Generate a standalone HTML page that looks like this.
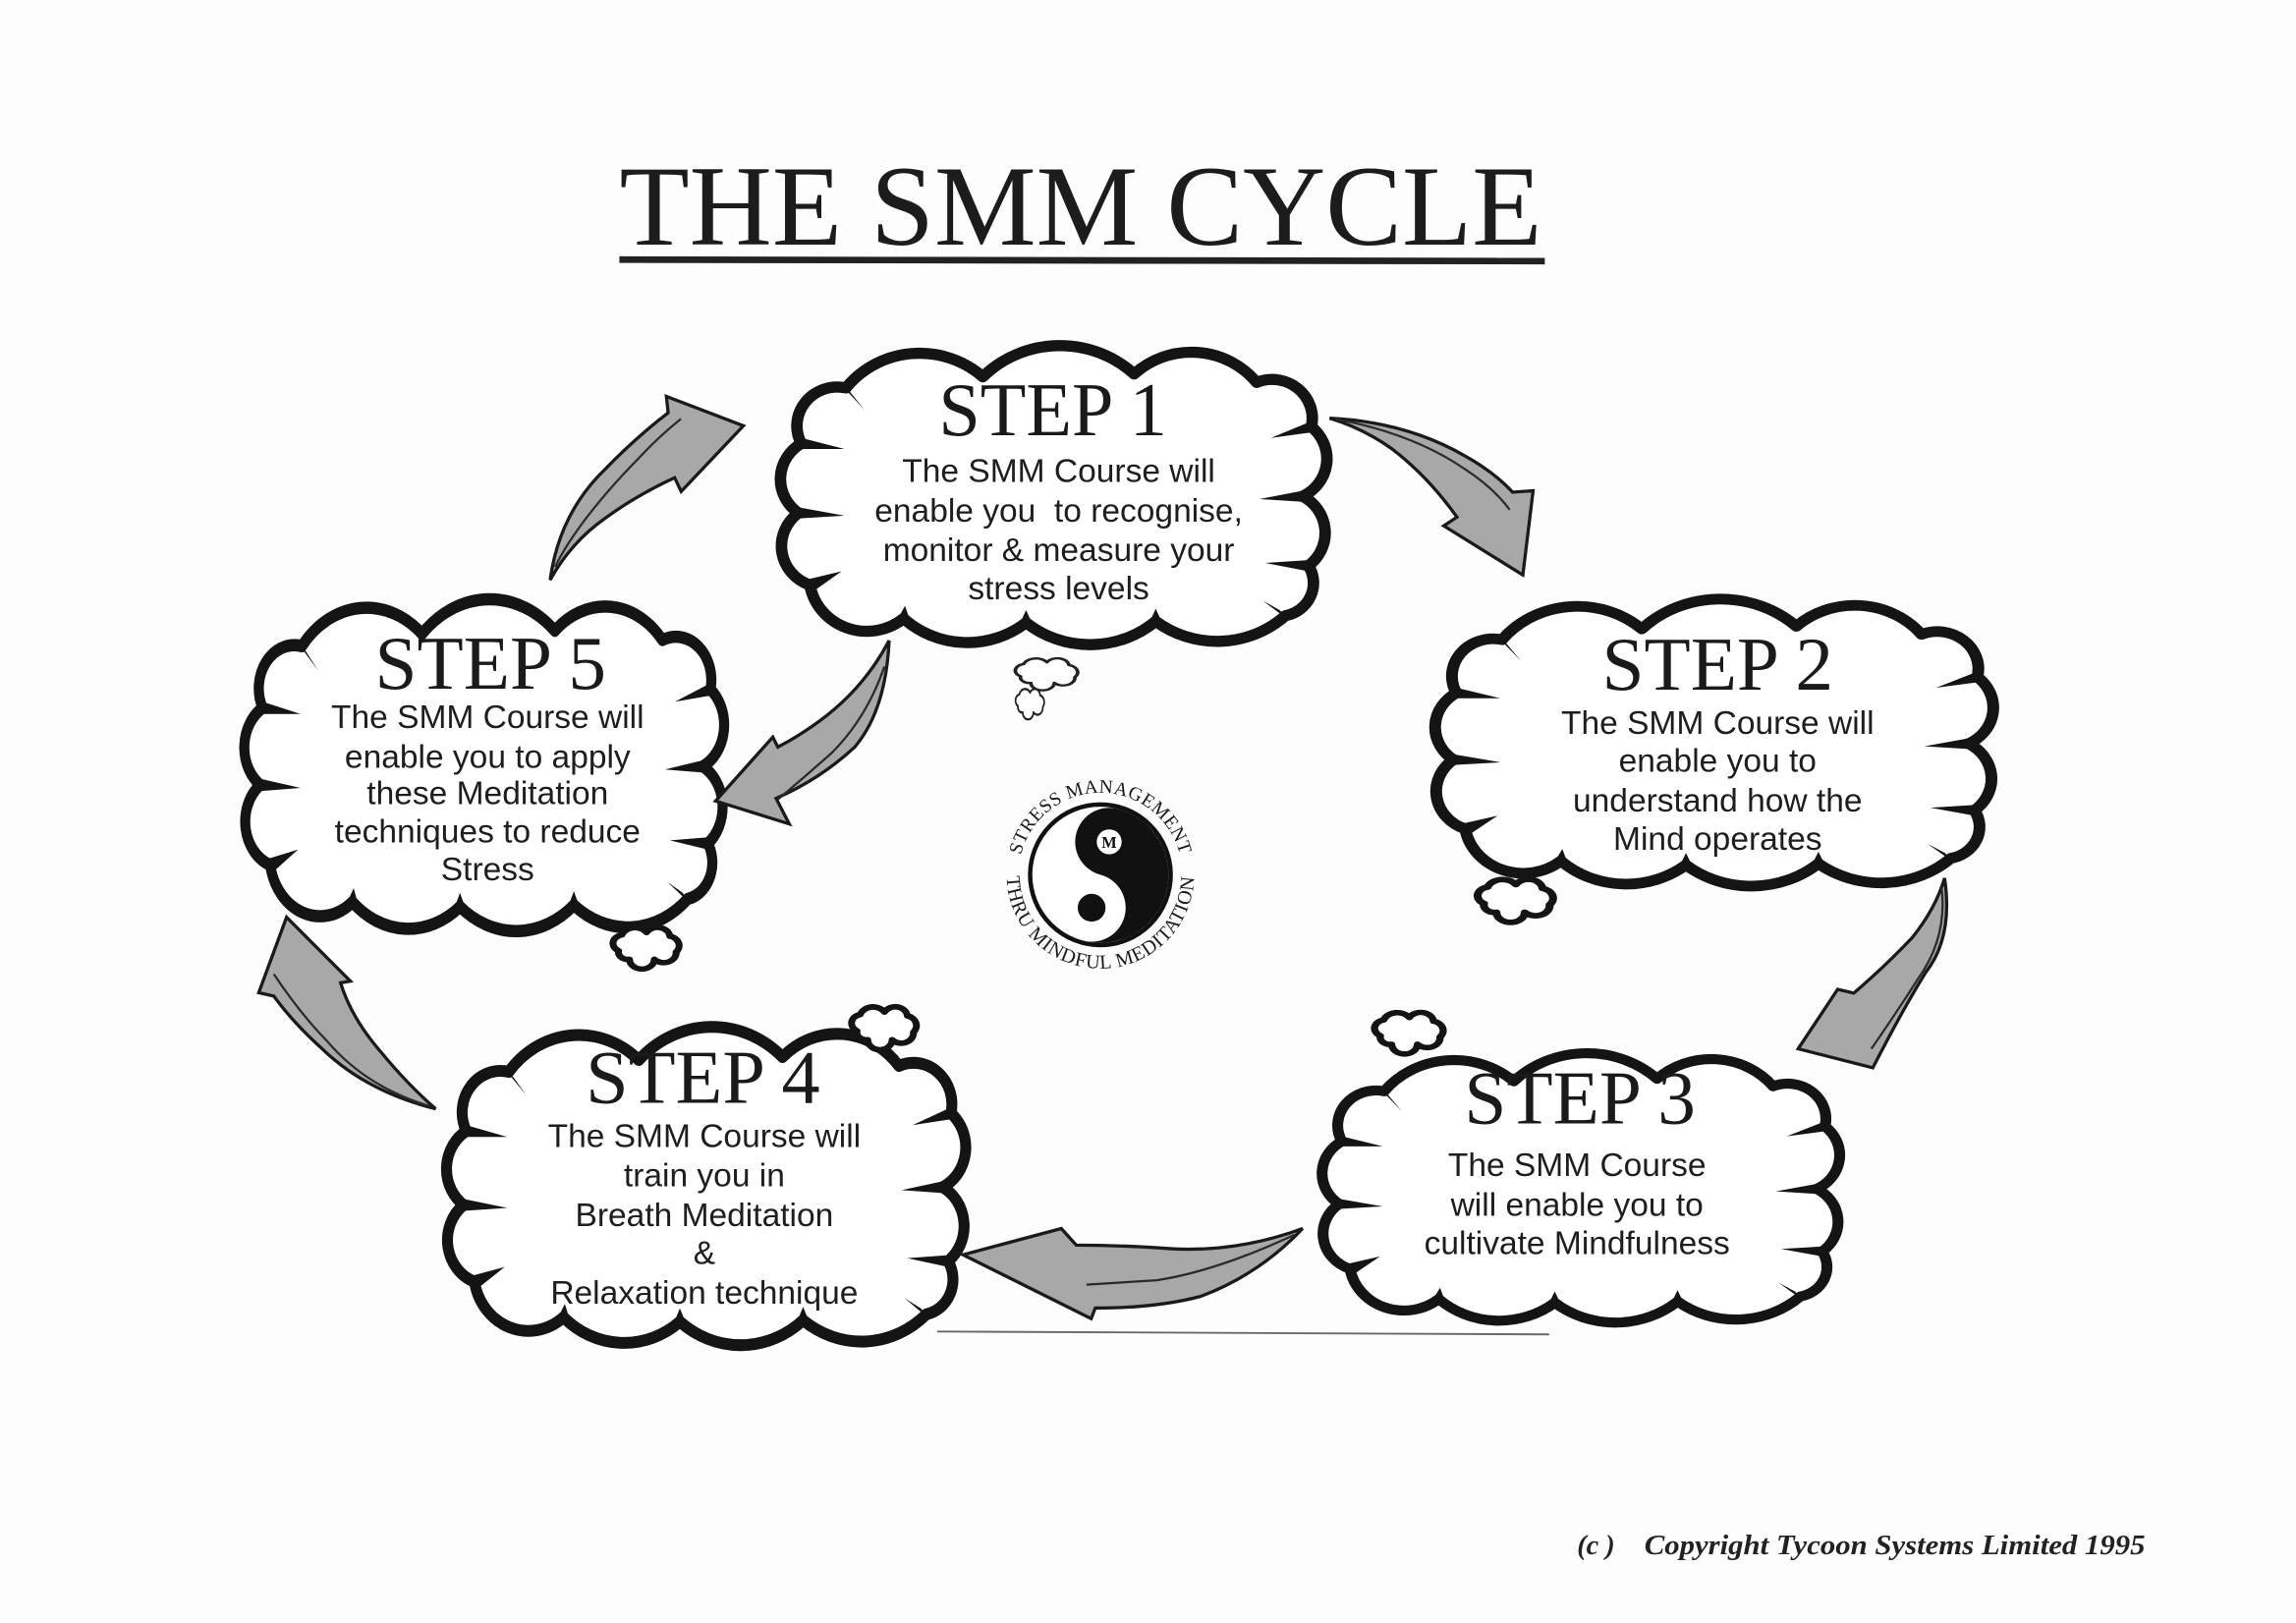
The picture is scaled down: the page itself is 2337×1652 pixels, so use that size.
<!DOCTYPE html>
<html>
<head>
<meta charset="utf-8">
<style>
html,body{margin:0;padding:0;background:#fdfdfd;}
svg{display:block;}
</style>
</head>
<body>
<svg width="2337" height="1652" viewBox="0 0 1568 1108" preserveAspectRatio="none" xmlns="http://www.w3.org/2000/svg" xmlns:xlink="http://www.w3.org/1999/xlink">
<defs>
  <g id="cl">
    <path d="M24,70 A28,28 0 0 1 55,30 A65,65 0 0 1 150,22 A75,75 0 0 1 255,20 A58,58 0 0 1 340,26 A28,28 0 0 1 378,58 A30,30 0 0 1 372,108 A30,30 0 0 1 376,158 A24,24 0 0 1 360,194 A70,70 0 0 1 270,198 A70,70 0 0 1 180,199 A65,65 0 0 1 95,196 A40,40 0 0 1 30,172 A30,30 0 0 1 22,120 A30,30 0 0 1 24,70 Z" fill="#ffffff" stroke="#141414" stroke-width="8" stroke-linejoin="round"/>
    <path fill="#141414" d="M24,66 L54,74 L24,74 Z M22,116 L54,122 L22,124 Z M28,168 L52,162 L33,176 Z M52,28 L68,46 L58,33 Z M378,54 L350,66 L378,62 Z M372,104 L342,110 L372,112 Z M376,154 L346,156 L376,162 Z M356,190 L344,183 L362,197 Z M266,198 L270,189 L274,198 Z M176,199 L180,190 L184,199 Z M91,196 L96,187 L99,196 Z"/>
  </g>
  <path id="sb" d="M8,20 A7,7 0 0 1 10,7 A9,9 0 0 1 26,5 A8,8 0 0 1 41,8 A8,8 0 0 1 45,21 A8,8 0 0 1 31,27 A8,8 0 0 1 15,27 A6,6 0 0 1 8,20 Z"/>
  <path id="tp" d="M695.5,597.2 A56,56 0 0 1 807.5,597.2"/>
  <path id="bp" d="M687.5,597.2 A64,64 0 0 0 815.5,597.2"/>
</defs>

<rect x="0" y="0" width="1568" height="1108" fill="#fdfdfd"/>

<!-- Title -->
<text x="423" y="167" font-family="'Liberation Serif', 'Times New Roman', serif" font-size="78" textLength="630" lengthAdjust="spacingAndGlyphs" fill="#1c1c1c">THE SMM CYCLE</text>
<path d="M423,175 L1055,176 L1055,180.5 L423,179.5 Z" fill="#222"/>

<!-- thin baseline line -->
<line x1="640" y1="909" x2="1058" y2="911" stroke="#6a6a6a" stroke-width="1.3"/>

<!-- Clouds -->
<use xlink:href="#cl" href="#cl" transform="translate(523.6,236.4) scale(0.984,0.948)"/>
<use xlink:href="#cl" href="#cl" transform="translate(970.5,409.4) scale(1.005,0.910)"/>
<use xlink:href="#cl" href="#cl" transform="translate(894.0,719.4) scale(0.932,0.854)"/>
<use xlink:href="#cl" href="#cl" transform="translate(296.0,701.5) scale(0.935,1.009)"/>
<use xlink:href="#cl" href="#cl" transform="translate(158.6,409.6) scale(0.864,1.052)"/>

<!-- small thought bubbles -->
<g fill="#fff" stroke="#141414" stroke-width="4.5" stroke-linejoin="round">
  <use xlink:href="#sb" href="#sb" transform="translate(1003.8,599.6) scale(1.21,0.86)"/>
  <use xlink:href="#sb" href="#sb" transform="translate(933.9,690.5) scale(1.10,0.83)"/>
  <use xlink:href="#sb" href="#sb" transform="translate(577,686.6) scale(1.04,0.86)"/>
  <use xlink:href="#sb" href="#sb" transform="translate(414,632.5) scale(1.06,0.83)"/>
</g>
<g fill="#fff" stroke="#222" stroke-width="2.5" stroke-linejoin="round">
  <use xlink:href="#sb" href="#sb" transform="translate(689,448.9) scale(1.0,0.64)"/>
  <use xlink:href="#sb" href="#sb" transform="translate(691.5,469.8) scale(0.46,0.61)"/>
</g>

<!-- Headings -->
<g font-family="'Liberation Serif', 'Times New Roman', serif" font-size="52" fill="#1a1a1a" text-anchor="middle">
  <text x="719" y="297" textLength="156" lengthAdjust="spacingAndGlyphs">STEP 1</text>
  <text x="1173" y="471" textLength="158" lengthAdjust="spacingAndGlyphs">STEP 2</text>
  <text x="1079" y="767" textLength="158" lengthAdjust="spacingAndGlyphs">STEP 3</text>
  <text x="480" y="753" textLength="160" lengthAdjust="spacingAndGlyphs">STEP 4</text>
  <text x="335" y="470" textLength="158" lengthAdjust="spacingAndGlyphs">STEP 5</text>
</g>

<!-- Body text -->
<g font-family="'Liberation Sans', Arial, sans-serif" font-size="22.5" fill="#1e1e1e" text-anchor="middle">
  <text x="723" y="329">The SMM Course will</text>
  <text x="723" y="356">enable you&#160; to recognise,</text>
  <text x="723" y="383">monitor &amp; measure your</text>
  <text x="723" y="409">stress levels</text>

  <text x="1173" y="501">The SMM Course will</text>
  <text x="1173" y="527">enable you to</text>
  <text x="1173" y="554">understand how the</text>
  <text x="1173" y="580">Mind operates</text>

  <text x="1077" y="803">The SMM Course</text>
  <text x="1077" y="830">will enable you to</text>
  <text x="1077" y="856">cultivate Mindfulness</text>

  <text x="481" y="783">The SMM Course will</text>
  <text x="481" y="810">train you in</text>
  <text x="481" y="837">Breath Meditation</text>
  <text x="481" y="863">&amp;</text>
  <text x="481" y="890">Relaxation technique</text>

  <text x="333" y="497">The SMM Course will</text>
  <text x="333" y="524">enable you to apply</text>
  <text x="333" y="549">these Meditation</text>
  <text x="333" y="575">techniques to reduce</text>
  <text x="333" y="601">Stress</text>
</g>

<!-- Arrows -->
<g fill="#a8a8a8" stroke="#1a1a1a" stroke-width="2.2" stroke-linejoin="miter">
  <path d="M908,285.5 Q960,288 1000,311 Q1020,322 1033,336 L1047,335 L1040,392.5 L986,359 L995,353 Q975,325 950,306 Q930,292 908,285.5 Z"/>
  <path d="M1328,599.5 Q1334,640 1315,664 Q1299,690 1279,729 L1228,716 L1255,675.4 L1266,678 Q1287,660 1306,640 Q1322,620 1328,599.5 Z"/>
  <path d="M889.6,838.7 Q845,855 800,852.5 Q765,850 735,850 L724.8,838.7 L657.7,856.6 L745.2,900.2 L748,893 Q790,893 820,885 Q860,870 889.6,838.7 Z"/>
  <path d="M297.5,757 Q250,745 220,716 Q200,698 187,680 L176.7,677.7 L195.7,626.2 L239.3,669.8 L232.6,671 Q240,695 260,718 Q278,740 297.5,757 Z"/>
  <path d="M375.7,395.9 Q382,350 413.8,319.8 Q435,298 456.3,281.8 L455.1,270.6 L507.7,290.7 L465.2,335.5 L460.7,326.1 Q435,338 413.8,353.4 Q390,370 375.7,395.9 Z"/>
  <path d="M607.2,437.3 Q590,470 560,492 Q545,503 531.2,510 L527.8,503.2 L488.7,546.8 L539,562.5 L530,545 Q560,532 583.7,510 Q605,485 607.2,437.3 Z"/>
</g>
<g fill="none" stroke="#2a2a2a" stroke-width="1.5">
  <path d="M912,286 Q965,296 1000,320 Q1020,333 1031,348"/>
  <path d="M1326,606 Q1330,640 1310,668 Q1296,690 1278,716"/>
  <path d="M884,843 Q830,868 790,874 L742,877"/>
  <path d="M293,755 Q250,742 223.6,711 Q205,692 187,665"/>
  <path d="M379,387 Q395,355 436,313 Q450,298 465,286"/>
  <path d="M604,455 Q592,490 568,514 Q550,530 531,546"/>
</g>

<!-- Yin-yang logo -->
<circle cx="751.5" cy="597.2" r="48" fill="#fff" stroke="#111" stroke-width="3"/>
<path d="M751.5,550.7 A46.5,46.5 0 0 1 751.5,643.7 A23.25,23.25 0 0 0 751.5,597.2 A23.25,23.25 0 0 1 751.5,550.7 Z" fill="#111" transform="rotate(15 751.5 597.2)"/>
<circle cx="757.5" cy="574.7" r="8.5" fill="#fff"/>
<text x="757.5" y="578.8" font-family="'Liberation Serif', serif" font-weight="bold" font-size="11" text-anchor="middle" fill="#111">M</text>
<circle cx="745.5" cy="619.7" r="9.5" fill="#111"/>
<text font-family="'Liberation Serif', 'Times New Roman', serif" font-size="13" letter-spacing="0.3" fill="#1a1a1a"><textPath xlink:href="#tp" href="#tp" startOffset="50%" text-anchor="middle">STRESS MANAGEMENT</textPath></text>
<text font-family="'Liberation Serif', 'Times New Roman', serif" font-size="13.5" letter-spacing="0.5" fill="#1a1a1a"><textPath xlink:href="#bp" href="#bp" startOffset="50%" text-anchor="middle">THRU MINDFUL MEDITATION</textPath></text>

<!-- Copyright -->
<text x="1077" y="1061" font-family="'Liberation Serif', 'Times New Roman', serif" font-style="italic" font-weight="bold" font-size="19" fill="#222">(c )</text>
<text x="1123" y="1061" font-family="'Liberation Serif', 'Times New Roman', serif" font-style="italic" font-weight="bold" font-size="19" fill="#222" textLength="342" lengthAdjust="spacingAndGlyphs">Copyright Tycoon Systems Limited 1995</text>
</svg>
</body>
</html>
